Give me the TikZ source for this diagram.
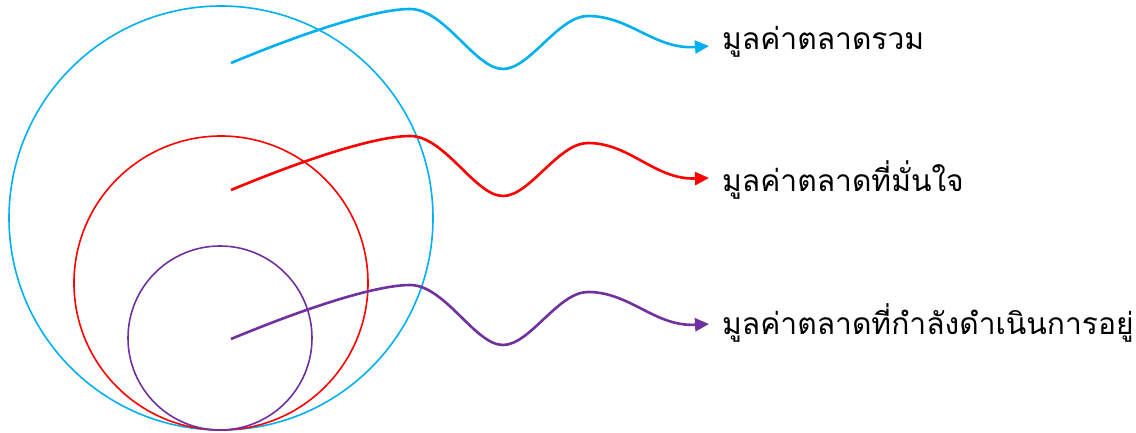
\documentclass[tikz,border=0pt]{standalone}
\usepackage{fontspec}
\newfontfamily\thaifont[Script=Thai]{Loma}
\usetikzlibrary{arrows.meta}
\definecolor{cblue}{RGB}{0,176,240}
\definecolor{cred}{RGB}{255,0,0}
\definecolor{cpurple}{RGB}{112,48,160}
\tikzset{
  ring/.style={line width=1.6pt},
  wave/.style={line width=2.6pt,-{Triangle[length=14pt,width=13pt]}},
  lbl/.style={anchor=west,inner sep=0pt,font=\thaifont\fontsize{30}{36}\selectfont}
}
\begin{document}
\begin{tikzpicture}[x=1pt,y=-1pt]
\useasboundingbox (0,0) rectangle (1136,433);
\draw[ring,cblue] (221,218) circle[radius=212];
\draw[ring,cred] (221,283) circle[radius=147];
\draw[ring,cpurple] (220,338) circle[radius=92];
\node[lbl] (lA) at (722,42) {มูลค่าตลาดรวม};
\node[lbl] (lB) at (722,180) {มูลค่าตลาดที่มั่นใจ};
\node[lbl] (lC) at (722,323) {มูลค่าตลาดที่กำลังดำเนินการอยู่};
\coordinate (sA) at (231,63);
\coordinate (sB) at (231,190);
\coordinate (sC) at (231,339);
\coordinate (eA) at (709,46);
\coordinate (eB) at (709,178);
\coordinate (eC) at (709,324);
\draw[wave,cblue] (sA) .. controls (330,22) and (385,9) .. (410,9)
  .. controls (445,9) and (475,69) .. (503,69)
  .. controls (530,69) and (558,16) .. (588,16)
  .. controls (630,16) and (655,50) .. (eA);
\draw[wave,cred] (sB) .. controls (330,149) and (385,136) .. (410,136)
  .. controls (445,136) and (475,196) .. (503,196)
  .. controls (530,196) and (558,143) .. (588,143)
  .. controls (630,143) and (655,180) .. (eB);
\draw[wave,cpurple] (sC) .. controls (330,298) and (385,285) .. (410,285)
  .. controls (445,285) and (475,345) .. (503,345)
  .. controls (530,345) and (558,292) .. (588,292)
  .. controls (630,292) and (655,327) .. (eC);
\end{tikzpicture}
\end{document}
